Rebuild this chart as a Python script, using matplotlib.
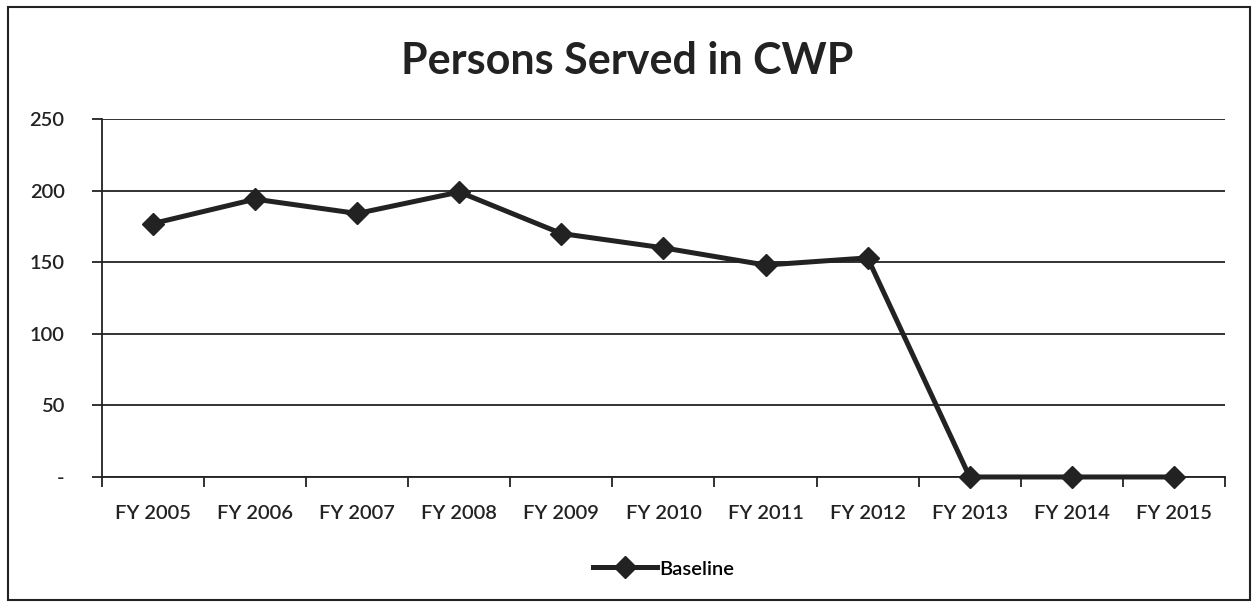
import matplotlib.pyplot as plt
from matplotlib.patches import Rectangle
from matplotlib.ticker import FixedLocator, FuncFormatter

# Persons served per fiscal year
years = ['FY 2005', 'FY 2006', 'FY 2007', 'FY 2008', 'FY 2009', 'FY 2010',
         'FY 2011', 'FY 2012', 'FY 2013', 'FY 2014', 'FY 2015']
baseline = [177, 194, 184, 199, 170, 160, 148, 153, 0, 0, 0]

plt.rcParams['font.family'] = ['Lato', 'DejaVu Sans']
ink = '#222222'
fs = 14.5

fig = plt.figure(figsize=(12.55, 6.07), dpi=100)
ax = fig.add_axes([0.0813, 0.2142, 0.8947, 0.5898])

x = list(range(len(years)))
ax.plot(x, baseline, color=ink, lw=3.6, marker='D', markersize=11,
        label='Baseline', zorder=3, clip_on=False)

ax.set_xlim(-0.5, len(years) - 0.5)
ax.set_ylim(0, 250)
ax.set_yticks([0, 50, 100, 150, 200, 250])
ax.yaxis.set_major_formatter(FuncFormatter(lambda v, p: '-' if v == 0 else f'{int(v)}'))
ax.yaxis.grid(True, color=ink, lw=1.3)
ax.set_axisbelow(True)

ax.set_xticks(x)
ax.set_xticklabels(years)
ax.xaxis.set_minor_locator(FixedLocator([i - 0.5 for i in range(len(years) + 1)]))
ax.tick_params(axis='x', which='major', length=0, pad=20, labelsize=fs, colors=ink)
ax.tick_params(axis='x', which='minor', length=7, width=1.3, color=ink)
ax.tick_params(axis='y', length=7, width=1.3, pad=20, labelsize=fs, colors=ink)
for lbl in ax.get_xticklabels() + ax.get_yticklabels():
    lbl.set_fontweight('semibold')

for side in ['top', 'right']:
    ax.spines[side].set_visible(False)
for side in ['left', 'bottom']:
    ax.spines[side].set_color(ink)
    ax.spines[side].set_linewidth(1.3)

fig.text(0.5, 0.9, 'Persons Served in CWP', ha='center', va='center',
         fontsize=31, fontweight='bold', color=ink)

leg = ax.legend(loc='center', bbox_to_anchor=(0.5, -0.257), frameon=False,
                prop={'size': fs, 'weight': 'semibold'},
                handlelength=3.2, handletextpad=0.1)

# outer chart border
fig.patches.append(Rectangle((8 / 1255, 7 / 607), 1242 / 1255, 593 / 607,
                             transform=fig.transFigure, fill=False,
                             edgecolor=ink, lw=1.5))

fig.savefig('out.png', dpi=100, facecolor='white')
